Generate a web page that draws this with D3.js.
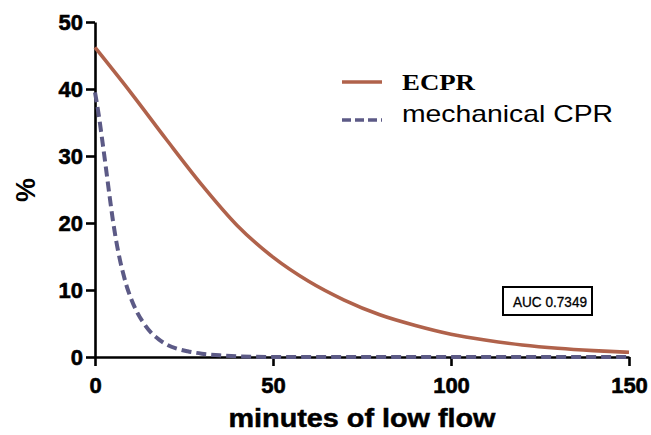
<!DOCTYPE html>
<html>
<head>
<meta charset="utf-8">
<script src="https://cdn.jsdelivr.net/npm/d3@7"></script>
<style>
  body { margin: 0; background: #fff; }
  svg { display: block; }
  .tick text { font-family: "Liberation Sans", Arial, sans-serif; font-weight: bold; font-size: 22px; fill: #000; stroke: #000; stroke-width: 0.6px; }
</style>
</head>
<body>
<div id="chart"></div>
<script>
// values
var ecprMinutes = [0, 10, 20, 30, 40, 50, 60, 70, 80, 90, 100, 110, 120, 130, 140, 150];
var ecprValues = [46.2, 39.5, 32.5, 25.7, 19.6, 14.9, 11.3, 8.5, 6.3, 4.7, 3.4, 2.5, 1.8, 1.3, 0.95, 0.7];

var mechMinutes = [0, 1, 2, 3, 4, 5, 6, 7, 8, 9, 10, 12, 14, 16, 18, 20, 23, 26, 30, 35, 40, 50, 60, 80, 100, 120, 150];
var mechValues = [39.5, 36.3, 32.5, 28.5, 24.4, 20.5, 17.2, 14.5, 12.3, 10.4, 8.9, 6.5, 4.8, 3.5, 2.6, 1.9, 1.25, 0.85, 0.5, 0.25, 0.1, 0, 0, 0, 0, 0, 0];

var xTicks = [0, 50, 100, 150];
var yTicks = [0, 10, 20, 30, 40, 50];
var aucLabel = "AUC 0.7349";

var width = 651, height = 435;
var margin = { left: 95, right: 22, top: 22, bottom: 78 };

var svg = d3.select("#chart").append("svg")
  .attr("width", width)
  .attr("height", height);

var x = d3.scaleLinear().domain([0, 150]).range([margin.left, width - margin.right]);
var y = d3.scaleLinear().domain([0, 50]).range([height - margin.bottom, margin.top]);

// axes
var xAxis = svg.append("g")
  .attr("transform", "translate(0," + y(0) + ")")
  .call(d3.axisBottom(x).tickValues(xTicks).tickSize(9).tickPadding(8).tickSizeOuter(0));
var yAxis = svg.append("g")
  .attr("transform", "translate(" + x(0) + ",0)")
  .call(d3.axisLeft(y).tickValues(yTicks).tickSize(9).tickPadding(3).tickSizeOuter(0));

[xAxis, yAxis].forEach(function (a) {
  a.select(".domain").attr("stroke", "#000").attr("stroke-width", 2.6);
  a.selectAll(".tick line").attr("stroke", "#000").attr("stroke-width", 2.6);
});
xAxis.selectAll(".tick text").attr("dy", "0.85em");

// curves
var curveLine = d3.line()
  .x(function (d) { return x(d[0]); })
  .y(function (d) { return y(d[1]); })
  .curve(d3.curveMonotoneX);

svg.append("path")
  .datum(d3.zip(mechMinutes, mechValues))
  .attr("fill", "none")
  .attr("stroke", "#5c5a86")
  .attr("stroke-width", 4)
  .attr("stroke-dasharray", "10,5")
  .attr("d", curveLine);

svg.append("path")
  .datum(d3.zip(ecprMinutes, ecprValues))
  .attr("fill", "none")
  .attr("stroke", "#b0624b")
  .attr("stroke-width", 3.6)
  .attr("d", curveLine);

// axis titles
svg.append("text")
  .attr("x", (x(0) + x(150)) / 2)
  .attr("y", 427)
  .attr("text-anchor", "middle")
  .attr("textLength", 267)
  .attr("lengthAdjust", "spacingAndGlyphs")
  .style("font-family", "Liberation Sans, Arial, sans-serif")
  .style("font-weight", "bold")
  .style("font-size", "26px")
  .style("stroke", "#000").style("stroke-width", "0.5px")
  .text("minutes of low flow");

svg.append("text")
  .attr("transform", "translate(35,190) rotate(-90)")
  .attr("text-anchor", "middle")
  .style("font-family", "Liberation Sans, Arial, sans-serif")
  .style("font-weight", "bold")
  .style("font-size", "27px")
  .text("%");

// legend
var legend = svg.append("g");
legend.append("line")
  .attr("x1", 342).attr("x2", 382).attr("y1", 82).attr("y2", 82)
  .attr("stroke", "#b0624b").attr("stroke-width", 3.6);
legend.append("text")
  .attr("x", 402).attr("y", 90)
  .attr("textLength", 73)
  .attr("lengthAdjust", "spacingAndGlyphs")
  .style("font-family", "Liberation Serif, Times New Roman, serif")
  .style("font-weight", "bold")
  .style("font-size", "23px")
  .text("ECPR");
legend.append("line")
  .attr("x1", 342).attr("x2", 382).attr("y1", 120).attr("y2", 120)
  .attr("stroke", "#5c5a86").attr("stroke-width", 3.6)
  .attr("stroke-dasharray", "9,4");
legend.append("text")
  .attr("x", 402).attr("y", 122)
  .attr("textLength", 211)
  .attr("lengthAdjust", "spacingAndGlyphs")
  .style("font-family", "Liberation Sans, Arial, sans-serif")
  .style("font-size", "24px")
  .text("mechanical CPR");

// AUC box
svg.append("rect")
  .attr("x", 503).attr("y", 287).attr("width", 89).attr("height", 28)
  .attr("fill", "#fff").attr("stroke", "#000").attr("stroke-width", 2);
svg.append("text")
  .attr("x", 513).attr("y", 307)
  .attr("textLength", 74)
  .attr("lengthAdjust", "spacingAndGlyphs")
  .style("font-family", "Liberation Sans, Arial, sans-serif")
  .style("font-size", "14px")
  .style("stroke", "#000").style("stroke-width", "0.3px")
  .text(aucLabel);
</script>
</body>
</html>
